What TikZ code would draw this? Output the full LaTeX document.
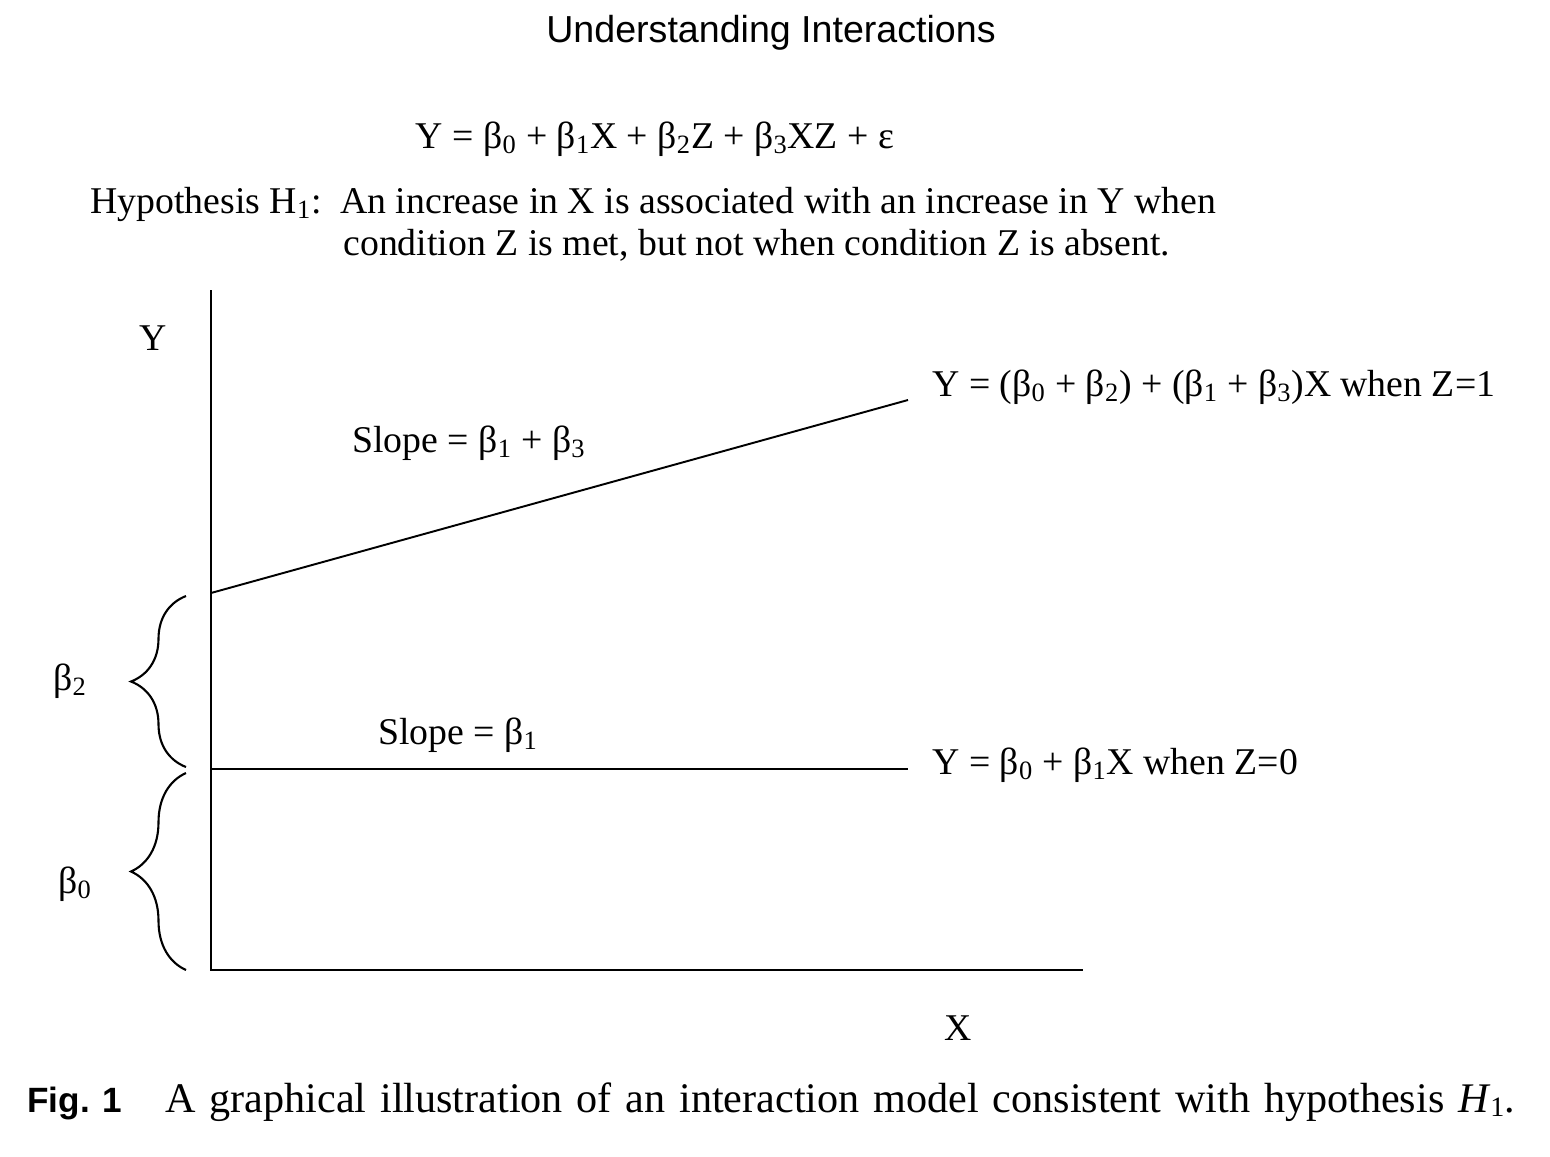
\documentclass[tikz,border=0pt]{standalone}
\usepackage{fontspec}
\setmainfont{Liberation Serif}
\newfontfamily\headfont{Liberation Sans}
\usetikzlibrary{positioning, decorations.pathreplacing}
\newcommand{\bt}[1]{β\textsubscript{#1}}

\begin{document}
\begin{tikzpicture}[
        x=0.02cm, y=-0.02cm,
        txt/.style={font=\fontsize{21.5}{26}\selectfont, inner sep=0pt},
        head/.style={font=\headfont\fontsize{21.4}{25}\selectfont, inner sep=0pt},
        axis/.style={line width=1.6pt},
        trend/.style={line width=1.1pt},
        curly/.style={decorate, decoration={brace, amplitude=1.1cm}, line width=1.2pt}
    ]
    \useasboundingbox (0,0) rectangle (1550,1156);

    % heading and model
    \node (title) [head, anchor=base] at (771,42) {Understanding Interactions};
    \node (model) [txt, anchor=base] at (655,148) {Y = \bt{0} + \bt{1}X + \bt{2}Z + \bt{3}XZ + ε};
    \node (hyp) [txt, anchor=base west] at (90,213) {Hypothesis H\textsubscript{1}:};
    \node (cond1) [txt, anchor=base west] at (340,213) {An increase in X is associated with an increase in Y when};
    \node (cond2) [txt, anchor=base west] at (343,255) {condition Z is met, but not when condition Z is absent.};

    % axes
    \coordinate (ytop) at (211,290);
    \coordinate (origin) at (211,970);
    \coordinate (xend) at (1083,970);
    \draw [axis] (ytop) -- (origin) -- (xend);
    \node (ylab) [txt, anchor=base] at (153,350) {Y};
    \node (xlab) [txt, anchor=base] at (958,1040) {X};

    % the two lines
    \coordinate (zone) at (211,593);
    \coordinate (zoneend) at (908,400);
    \coordinate (zzero) at (211,769);
    \coordinate (zzeroend) at (908,769);
    \draw [trend] (zone) -- (zoneend);
    \draw [trend] (zzero) -- (zzeroend);
    \node (slope1) [txt, anchor=base] at (469,452) {Slope = \bt{1} + \bt{3}};
    \node (slope0) [txt, anchor=base] at (458,744) {Slope = \bt{1}};
    \node (eqone) [txt, anchor=base west] at (932,396) {Y = (\bt{0} + \bt{2}) + (\bt{1} + \bt{3})X when Z=1};
    \node (eqzero) [txt, anchor=base west] at (932,774) {Y = \bt{0} + \bt{1}X when Z=0};

    % braces
    \coordinate (btop) at (186,596);
    \coordinate (bmid) at (186,767);
    \coordinate (bmid2) at (186,773);
    \coordinate (bbot) at (186,970);
    \draw [curly] (bmid) -- (btop);
    \draw [curly] (bbot) -- (bmid2);
    \node (btwo) [txt, anchor=base] at (70,690) {\bt{2}};
    \node (bzero) [txt, anchor=base] at (75,893) {\bt{0}};

    % caption
    \node (fig) [txt, anchor=base west, font=\headfont\bfseries\fontsize{20}{24}\selectfont] at (27,1112) {Fig. 1};
    \node (capt) [txt, anchor=base west, font=\fontsize{24}{28}\selectfont] at (165,1112) {\makebox[27cm][s]{A graphical illustration of an interaction model consistent with hypothesis \textit{H}\raisebox{-0.25ex}{\fontsize{16}{18}\selectfont 1}.}};
\end{tikzpicture}
\end{document}
